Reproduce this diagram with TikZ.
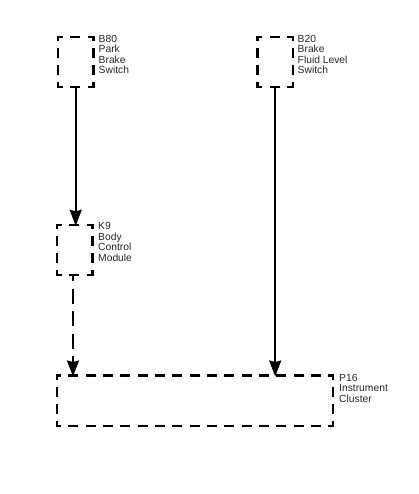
\documentclass[tikz,border=0pt]{standalone}
\usepackage{fontspec}
\setmainfont{Liberation Sans}
\usetikzlibrary{arrows.meta}
\tikzset{
  x=1pt,y=-1pt,
  unit/.style={rectangle,inner sep=0pt,minimum width=#1,minimum height=50pt},
  unit/.default=35pt,
  edge/.style={draw=black,line width=2.2pt,shorten <=-1.1pt,shorten >=-1.1pt},
  hsmall/.style={edge,dash pattern=on 10pt off 7.5pt,dash phase=4pt},
  vsmall/.style={edge,dash pattern=on 10pt off 7pt,dash phase=4.5pt},
  hwide/.style={edge,dash pattern=on 10pt off 7.33pt,dash phase=4.6pt},
  lab/.style={anchor=north west,inner sep=0pt,align=left,font=\fontsize{10.3}{10.4}\selectfont,text=black!85},
  wire/.style={line width=2pt,-{Stealth[length=16pt,width=12pt,inset=1.5pt]},shorten >=-1pt},
  bus/.style={wire,dash pattern=on 15pt off 7.5pt,dash phase=9pt}
}
\newcommand{\smallbox}[1]{%
  \draw[hsmall] (#1.north west) -- (#1.north east);
  \draw[hsmall] (#1.south west) -- (#1.south east);
  \draw[vsmall] (#1.north west) -- (#1.south west);
  \draw[vsmall] (#1.north east) -- (#1.south east);}
\begin{document}
\begin{tikzpicture}
\useasboundingbox (0,0) rectangle (419,494);
\node[unit] (b80) at (75.7,62) {};
\node[unit] (b20) at (275.2,62) {};
\node[unit] (k9) at (74.7,250) {};
\node[unit=276pt] (p16) at (195,400.7) {};
\smallbox{b80}
\smallbox{b20}
\smallbox{k9}
\draw[hwide] (p16.north west) -- (p16.north east);
\draw[hwide] (p16.south west) -- (p16.south east);
\draw[vsmall] (p16.north west) -- (p16.south west);
\draw[vsmall] (p16.north east) -- (p16.south east);
\node[lab] (tb80) at (98.5,35) {B80\\Park\\Brake\\Switch};
\node[lab] (tb20) at (297.5,35) {B20\\Brake\\Fluid Level\\Switch};
\node[lab] (tk9) at (98,222.5) {K9\\Body\\Control\\Module};
\node[lab] (tp16) at (339,374) {P16\\Instrument\\Cluster};
\draw[wire] (b80.south) -- (k9.north -| b80.south);
\draw[wire] (b20.south) -- (p16.north -| b20.south);
\draw[bus] (k9.south -| 73,0) -- (p16.north -| 73,0);
\end{tikzpicture}
\end{document}
